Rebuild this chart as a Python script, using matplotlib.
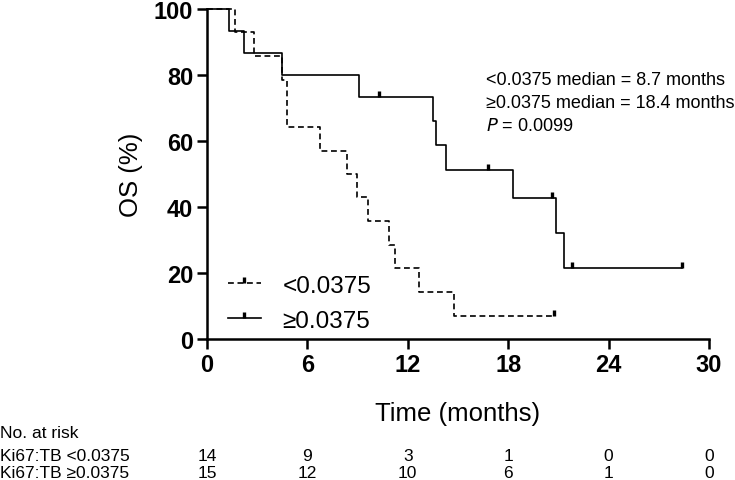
import matplotlib.pyplot as plt
from matplotlib.lines import Line2D

plt.rcParams['font.family'] = ['Liberation Sans', 'DejaVu Sans']

# Kaplan-Meier curves (time in months, OS in %)
low_times = [0, 1.7, 2.8, 4.5, 4.8, 6.75, 8.35, 8.95, 9.6, 10.85, 11.25, 12.7, 14.75, 20.75]
low_surv = [100, 92.9, 85.7, 78.6, 64.3, 57.1, 50.0, 42.9, 35.7, 28.6, 21.4, 14.3, 7.1, 7.1]
low_cens_t = [20.75]
low_cens_s = [7.1]

high_times = [0, 1.3, 2.2, 4.5, 9.1, 13.5, 13.7, 14.3, 18.3, 20.85, 21.35, 28.4]
high_surv = [100, 93.3, 86.7, 80.0, 73.3, 66.0, 58.7, 51.3, 42.8, 32.1, 21.4, 21.4]
high_cens_t = [10.3, 16.8, 20.6, 21.8, 28.4]
high_cens_s = [73.3, 51.3, 42.8, 21.4, 21.4]

xticks = [0, 6, 12, 18, 24, 30]
yticks = [0, 20, 40, 60, 80, 100]
risk_rows = ['Ki67:TB <0.0375', 'Ki67:TB \u22650.0375']
risk_low = [14, 9, 3, 1, 0, 0]
risk_high = [15, 12, 10, 6, 1, 0]

fig = plt.figure(figsize=(7.35, 4.81), dpi=100)
ax = fig.add_axes([0.2816, 0.2931, 0.6830, 0.6860])

# censor mark: short vertical line going up from the curve
tick_mark = [(0, 0), (0, 1)]
dash = (0, (3.5, 2.2))
ms = 9
mew = 2.4

ax.step(low_times, low_surv, where='post', color='black', lw=1.2, linestyle=dash,
        clip_on=False)
ax.plot(low_cens_t, low_cens_s, ls='none', marker=tick_mark, ms=ms,
        mew=mew, mec='black', clip_on=False)
ax.step(high_times, high_surv, where='post', color='black', lw=1.2, clip_on=False)
ax.plot(high_cens_t, high_cens_s, ls='none', marker=tick_mark, ms=ms,
        mew=mew, mec='black', clip_on=False)

ax.set_xlim(0, 30)
ax.set_ylim(0, 100)
ax.set_xticks(xticks)
ax.set_yticks(yticks)
ax.set_xticklabels([str(t) for t in xticks], fontsize=17, fontweight='bold')
ax.set_yticklabels([str(t) for t in yticks], fontsize=17, fontweight='bold')
ax.tick_params(direction='out', length=7, width=1.8, pad=3)
for s in ['top', 'right']:
    ax.spines[s].set_visible(False)
for s in ['left', 'bottom']:
    ax.spines[s].set_linewidth(1.8)

ax.set_ylabel('OS (%)', fontsize=18.5, labelpad=8)
ax.set_xlabel('Time (months)', fontsize=18.5, labelpad=18)

handles = [
    Line2D([], [], color='black', lw=1.2, linestyle=dash, marker=tick_mark,
           ms=ms, mew=mew),
    Line2D([], [], color='black', lw=1.2, marker=tick_mark, ms=ms, mew=mew),
]
ax.legend(handles, ['<0.0375', '\u22650.0375'], loc='lower left',
          bbox_to_anchor=(0.022, -0.008), frameon=False, fontsize=17.5,
          numpoints=1, handlelength=1.35, handletextpad=0.9, labelspacing=0.55,
          borderaxespad=0.0, borderpad=0.4)

ax.text(0.555, 0.787, '<0.0375 median = 8.7 months', transform=ax.transAxes,
        fontsize=13, va='center')
ax.text(0.555, 0.717, '\u22650.0375 median = 18.4 months', transform=ax.transAxes,
        fontsize=13, va='center')
ax.text(0.555, 0.647, '$\\it{P}$ = 0.0099', transform=ax.transAxes,
        fontsize=13, va='center')

# number at risk table
trans = ax.get_xaxis_transform()
fig.text(0.0, 1 - 434 / 481, 'No. at risk', fontsize=12.5, va='center')
fig.text(0.0, 1 - 457 / 481, risk_rows[0], fontsize=12.5, va='center')
fig.text(0.0, 1 - 474 / 481, risk_rows[1], fontsize=12.5, va='center')
y1 = (1 - 457 / 481 - 0.2931) / 0.6860
y2 = (1 - 474 / 481 - 0.2931) / 0.6860
for t, a, b in zip(xticks, risk_low, risk_high):
    ax.text(t, y1, str(a), transform=trans, fontsize=12.5, ha='center',
            va='center', clip_on=False)
    ax.text(t, y2, str(b), transform=trans, fontsize=12.5, ha='center',
            va='center', clip_on=False)

fig.savefig('out.png', dpi=100)
